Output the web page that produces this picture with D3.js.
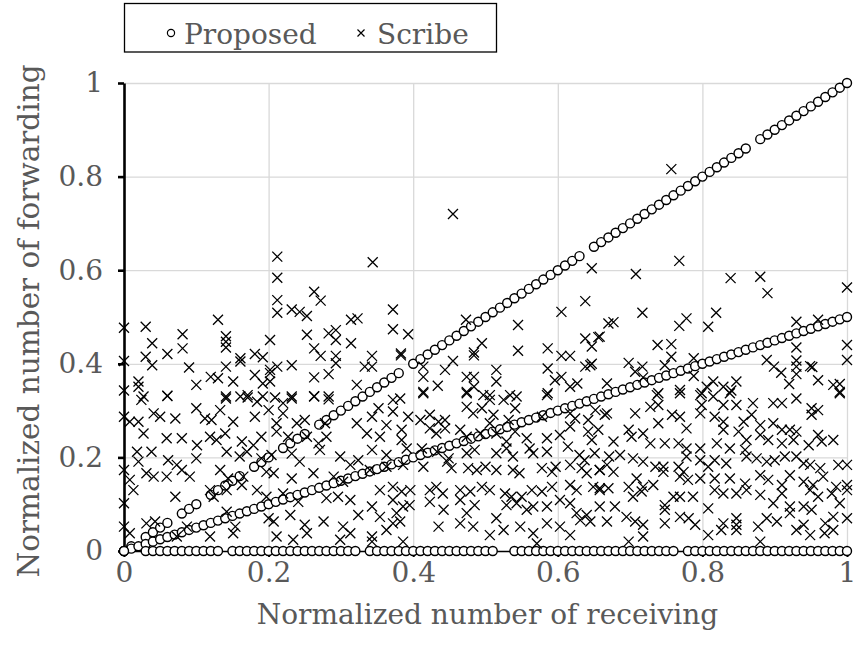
<!DOCTYPE html>
<html>
<head>
<meta charset="utf-8">
<script src="https://cdn.jsdelivr.net/npm/d3@7"></script>
<style>
  body { margin: 0; background: #fff; }
  svg text { font-family: "DejaVu Serif", serif; fill: #595959; }
</style>
</head>
<body>
<div id="chart"></div>
<script>
// Tick labels
var xTickValues = [0, 0.2, 0.4, 0.6, 0.8, 1];
var xTickLabels = ["0", "0.2", "0.4", "0.6", "0.8", "1"];
var yTickValues = [0, 0.2, 0.4, 0.6, 0.8, 1];
var yTickLabels = ["0", "0.2", "0.4", "0.6", "0.8", "1"];

var seriesNames = ["Proposed", "Scribe"];

// Proposed: nodes forwarding everything they receive
var proposedFull = [[0,0],[0.01,0.01],[0.03,0.03],[0.04,0.04],[0.05,0.05],[0.06,0.06],[0.08,0.08],[0.09,0.09],[0.10,0.10],
  [0.12,0.12],[0.13,0.13],[0.14,0.14],[0.15,0.15],[0.16,0.16],[0.18,0.18],[0.19,0.19],[0.20,0.20],[0.22,0.22],[0.23,0.23],
  [0.24,0.24],[0.25,0.25],[0.27,0.27],[0.28,0.28],[0.29,0.29],[0.30,0.30],[0.31,0.31],[0.32,0.32],[0.33,0.33],[0.34,0.34],
  [0.35,0.35],[0.36,0.36],[0.37,0.37],[0.38,0.38],[0.40,0.40],[0.41,0.41],[0.42,0.42],[0.43,0.43],[0.44,0.44],[0.45,0.45],
  [0.46,0.46],[0.47,0.47],[0.48,0.48],[0.49,0.49],[0.50,0.50],[0.51,0.51],[0.52,0.52],[0.53,0.53],[0.54,0.54],[0.55,0.55],
  [0.56,0.56],[0.57,0.57],[0.58,0.58],[0.59,0.59],[0.60,0.60],[0.61,0.61],[0.62,0.62],[0.63,0.63],[0.65,0.65],[0.66,0.66],
  [0.67,0.67],[0.68,0.68],[0.69,0.69],[0.70,0.70],[0.71,0.71],[0.72,0.72],[0.73,0.73],[0.74,0.74],[0.75,0.75],[0.76,0.76],
  [0.77,0.77],[0.78,0.78],[0.79,0.79],[0.80,0.80],[0.81,0.81],[0.82,0.82],[0.83,0.83],[0.84,0.84],[0.85,0.85],[0.86,0.86],
  [0.88,0.88],[0.89,0.89],[0.90,0.90],[0.91,0.91],[0.92,0.92],[0.93,0.93],[0.94,0.94],[0.95,0.95],[0.96,0.96],[0.97,0.97],
  [0.98,0.98],[0.99,0.99],[1,1]];

// Proposed: nodes forwarding half of what they receive
var proposedHalf = [[0,0],[0.01,0.005],[0.02,0.01],[0.03,0.015],[0.04,0.02],[0.05,0.025],[0.06,0.03],[0.07,0.035],[0.08,0.04],
  [0.09,0.045],[0.10,0.05],[0.11,0.055],[0.12,0.06],[0.13,0.065],[0.14,0.07],[0.15,0.075],[0.16,0.08],[0.17,0.085],[0.18,0.09],
  [0.19,0.095],[0.20,0.10],[0.21,0.105],[0.22,0.11],[0.23,0.115],[0.24,0.12],[0.25,0.125],[0.26,0.13],[0.27,0.135],[0.28,0.14],
  [0.29,0.145],[0.30,0.15],[0.31,0.155],[0.32,0.16],[0.33,0.165],[0.34,0.17],[0.35,0.175],[0.36,0.18],[0.37,0.185],[0.38,0.19],
  [0.39,0.195],[0.40,0.20],[0.41,0.205],[0.42,0.21],[0.43,0.215],[0.44,0.22],[0.45,0.225],[0.46,0.23],[0.47,0.235],[0.48,0.24],
  [0.49,0.245],[0.50,0.25],[0.51,0.255],[0.52,0.26],[0.53,0.265],[0.54,0.27],[0.55,0.275],[0.56,0.28],[0.57,0.285],[0.58,0.29],
  [0.59,0.295],[0.60,0.30],[0.61,0.305],[0.62,0.31],[0.63,0.315],[0.64,0.32],[0.65,0.325],[0.66,0.33],[0.67,0.335],[0.68,0.34],
  [0.69,0.345],[0.70,0.35],[0.71,0.355],[0.72,0.36],[0.73,0.365],[0.74,0.37],[0.75,0.375],[0.76,0.38],[0.77,0.385],[0.78,0.39],
  [0.79,0.395],[0.80,0.40],[0.81,0.405],[0.82,0.41],[0.83,0.415],[0.84,0.42],[0.85,0.425],[0.86,0.43],[0.87,0.435],[0.88,0.44],
  [0.89,0.445],[0.90,0.45],[0.91,0.455],[0.92,0.46],[0.93,0.465],[0.94,0.47],[0.95,0.475],[0.96,0.48],[0.97,0.485],[0.98,0.49],
  [0.99,0.495],[1,0.5]];

// Proposed: nodes that forward nothing
var proposedZero = [[0,0],[0.03,0],[0.04,0],[0.05,0],[0.06,0],[0.07,0],[0.08,0],[0.09,0],[0.10,0],[0.11,0],[0.12,0],[0.13,0],
  [0.15,0],[0.16,0],[0.17,0],[0.18,0],[0.19,0],[0.20,0],[0.21,0],[0.22,0],[0.23,0],[0.24,0],[0.25,0],[0.26,0],[0.27,0],
  [0.28,0],[0.29,0],[0.30,0],[0.31,0],[0.32,0],[0.34,0],[0.35,0],[0.36,0],[0.37,0],[0.38,0],[0.39,0],[0.40,0],[0.41,0],
  [0.42,0],[0.43,0],[0.44,0],[0.45,0],[0.46,0],[0.47,0],[0.48,0],[0.49,0],[0.50,0],[0.51,0],[0.54,0],[0.55,0],[0.56,0],
  [0.57,0],[0.58,0],[0.59,0],[0.60,0],[0.61,0],[0.62,0],[0.63,0],[0.64,0],[0.65,0],[0.66,0],[0.67,0],[0.68,0],[0.69,0],
  [0.70,0],[0.71,0],[0.72,0],[0.73,0],[0.74,0],[0.75,0],[0.76,0],[0.78,0],[0.79,0],[0.80,0],[0.81,0],[0.82,0],[0.83,0],
  [0.84,0],[0.85,0],[0.86,0],[0.87,0],[0.88,0],[0.89,0],[0.90,0],[0.91,0],[0.92,0],[0.93,0],[0.94,0],[0.95,0],[0.96,0],
  [0.97,0],[0.98,0],[0.99,0],[1,0]];

// Scribe: upper scattered nodes
var scribeUpper = [[0.455,0.72],[0.757,0.816],[0.212,0.629],[0.212,0.584],[0.212,0.536],[0.212,0.509],[0.232,0.516],
  [0.243,0.511],[0.253,0.502],[0.263,0.554],[0.272,0.535],[0.314,0.494],[0.323,0.497],[0,0.477],[0.03,0.479],[0.039,0.444],
  [0.03,0.415],[0.039,0.397],[0.06,0.421],[0.081,0.463],[0.081,0.433],[0.09,0.392],[0.13,0.494],[0.141,0.459],[0.141,0.447],
  [0.141,0.435],[0.141,0.394],[0.161,0.412],[0.161,0.405],[0.181,0.421],[0.192,0.414],[0.202,0.451],[0.202,0.387],[0.212,0.394],
  [0.232,0.397],[0.253,0.462],[0.263,0.433],[0.272,0.417],[0.283,0.465],[0.293,0.472],[0.293,0.451],[0.293,0.417],[0.293,0.401],
  [0.314,0.444],[0,0.406],[0,0.343],[0.02,0.362],[0.02,0.351],[0.027,0.33],[0.06,0.332],[0.1,0.355],[0.12,0.372],[0.13,0.369],
  [0.141,0.33],[0.151,0.362],[0.161,0.33],[0.171,0.333],[0.181,0.376],[0.192,0.358],[0.192,0.33],[0.202,0.362],[0.202,0.38],
  [0.232,0.33],[0.263,0.371],[0.263,0.33],[0.283,0.378],[0.283,0.33],[0.322,0.355],
  [0.344,0.617],[0.372,0.516],[0.372,0.474],[0.393,0.463],[0.383,0.422],[0.383,0.418],[0.343,0.417],[0.333,0.394],[0.343,0.394],
  [0.473,0.494],[0.495,0.444],[0.484,0.424],[0.484,0.418],[0.455,0.406],[0.444,0.387],[0.414,0.394],[0.414,0.372],[0.414,0.34],
  [0.434,0.353],[0.474,0.372],[0.484,0.372],[0.474,0.34],[0.484,0.351],[0.515,0.387],[0.515,0.362],[0.506,0.333],[0.534,0.333],
  [0.545,0.483],[0.545,0.428],[0.586,0.433],[0.586,0.39],[0.586,0.337],[0.605,0.511],[0.605,0.417],[0.617,0.417],[0.605,0.372],
  [0.596,0.365],[0.617,0.351],[0.627,0.358],[0.638,0.534],[0.647,0.604],[0.638,0.454],[0.647,0.437],[0.656,0.457],[0.645,0.397],
  [0.638,0.394],[0.647,0.4],[0.67,0.486],[0.668,0.358],
  [0.768,0.62],[0.708,0.592],[0.839,0.583],[0.88,0.586],[0.89,0.551],[1,0.563],[0.677,0.489],[0.717,0.509],[0.768,0.481],
  [0.778,0.497],[0.808,0.479],[0.819,0.509],[0.738,0.44],[0.757,0.442],[0.757,0.415],[0.698,0.402],[0.717,0.394],[0.748,0.397],
  [0.788,0.412],[0.788,0.374],[0.93,0.49],[0.96,0.494],[0.93,0.435],[0.93,0.407],[0.93,0.394],[0.93,0.378],[0.889,0.408],
  [0.899,0.394],[0.909,0.381],[0.92,0.357],[0.949,0.395],[0.952,0.393],[0.96,0.365],[0.981,0.355],[0.99,0.357],[0.99,0.34],
  [1,0.44],[1,0.408],[0.707,0.383],[0.718,0.371],[0.815,0.362],[0.806,0.351],[0.829,0.351],[0.84,0.343],[0.847,0.362],
  [0.769,0.344],[0.799,0.337],[0.739,0.337],[0.658,0.458]];

// Scribe: dense band, left third
var scribeLeft = [[0.024,0.323],[0.06,0.331],[0.141,0.326],[0.171,0.328],[0.184,0.319],[0.209,0.328],[0.22,0.316],[0.232,0.326],
  [0.263,0.331],[0.283,0.324],[0,0.287],[0.008,0.276],[0.02,0.276],[0.041,0.294],[0.05,0.287],[0.071,0.283],[0.1,0.305],
  [0.112,0.283],[0.121,0.28],[0.133,0.301],[0.151,0.276],[0.181,0.287],[0.2,0.301],[0.211,0.273],[0.22,0.294],[0.239,0.273],
  [0.25,0.28],[0.278,0.273],[0.322,0.273],[0.027,0.251],[0.059,0.241],[0.08,0.241],[0.101,0.226],[0.119,0.244],[0.128,0.237],
  [0.14,0.251],[0.163,0.234],[0.179,0.226],[0.19,0.244],[0.211,0.255],[0.227,0.244],[0.253,0.244],[0.269,0.23],[0.28,0.244],
  [0.018,0.212],[0.02,0.191],[0.038,0.212],[0.061,0.194],[0.073,0.184],[0.1,0.198],[0.142,0.212],[0.16,0.202],[0.17,0.212],
  [0.19,0.198],[0.204,0.205],[0.232,0.208],[0.243,0.191],[0.271,0.216],[0.299,0.202],[0.324,0.194],[0.313,0.184],
  [0,0.173],[0.008,0.152],[0.031,0.166],[0.041,0.159],[0.059,0.159],[0.08,0.173],[0.091,0.159],[0.133,0.173],[0.144,0.155],
  [0.165,0.159],[0.197,0.169],[0.207,0.166],[0.232,0.155],[0.262,0.166],[0.29,0.159],[0.303,0.148],
  [0,0.102],[0.013,0.13],[0.071,0.116],[0.119,0.13],[0.124,0.116],[0.142,0.13],[0.163,0.141],[0.184,0.13],[0.197,0.116],
  [0.22,0.123],[0.241,0.105],[0.28,0.113],[0.296,0.116],[0.313,0.109],
  [0,0.052],[0.031,0.059],[0.043,0.063],[0.087,0.052],[0.142,0.084],[0.154,0.052],[0.2,0.07],[0.207,0.063],[0.23,0.077],
  [0.25,0.056],[0.276,0.063],[0.303,0.052],[0.324,0.077],
  [0.008,0.038],[0.073,0.031],[0.119,0.031],[0.151,0.038],[0.211,0.031],[0.234,0.024],[0.253,0.038],[0.313,0.038],[0.299,0.024]];

// Scribe: dense band, middle third
var scribeMiddle = [[0.372,0.323],[0.382,0.326],[0.414,0.337],[0.474,0.337],[0.497,0.333],[0.506,0.323],[0.525,0.323],
  [0.543,0.33],[0.585,0.333],[0.352,0.305],[0.343,0.287],[0.372,0.298],[0.393,0.287],[0.41,0.28],[0.423,0.291],[0.435,0.276],
  [0.444,0.28],[0.474,0.308],[0.483,0.294],[0.495,0.305],[0.511,0.291],[0.506,0.273],[0.532,0.28],[0.541,0.305],[0.578,0.287],
  [0.617,0.294],[0.624,0.283],[0.642,0.28],[0.652,0.301],[0.668,0.294],
  [0.336,0.251],[0.354,0.244],[0.363,0.269],[0.384,0.259],[0.384,0.237],[0.423,0.262],[0.432,0.251],[0.444,0.262],[0.465,0.259],
  [0.474,0.244],[0.493,0.251],[0.515,0.251],[0.529,0.234],[0.541,0.255],[0.557,0.241],[0.585,0.241],[0.603,0.248],[0.617,0.266],
  [0.642,0.255],[0.647,0.237],[0.656,0.259],
  [0.343,0.216],[0.363,0.205],[0.391,0.219],[0.412,0.219],[0.433,0.212],[0.449,0.198],[0.474,0.209],[0.485,0.216],[0.515,0.209],
  [0.529,0.219],[0.538,0.202],[0.561,0.219],[0.566,0.209],[0.585,0.212],[0.614,0.223],[0.63,0.205],[0.637,0.194],[0.651,0.209],
  [0.671,0.202],
  [0.34,0.173],[0.363,0.18],[0.386,0.184],[0.414,0.18],[0.447,0.191],[0.453,0.177],[0.476,0.177],[0.488,0.173],[0.5,0.18],
  [0.515,0.173],[0.538,0.173],[0.547,0.166],[0.578,0.177],[0.592,0.169],[0.597,0.18],[0.617,0.184],[0.633,0.177],[0.64,0.166],
  [0.658,0.173],
  [0.354,0.13],[0.372,0.137],[0.384,0.127],[0.396,0.13],[0.423,0.13],[0.432,0.137],[0.441,0.123],[0.465,0.13],[0.479,0.127],
  [0.495,0.137],[0.506,0.13],[0.527,0.123],[0.536,0.116],[0.55,0.116],[0.564,0.13],[0.578,0.127],[0.592,0.137],[0.617,0.141],
  [0.626,0.13],[0.649,0.137],[0.658,0.13],[0.67,0.134],
  [0.343,0.095],[0.354,0.073],[0.372,0.109],[0.377,0.081],[0.386,0.095],[0.395,0.098],[0.423,0.105],[0.442,0.088],[0.465,0.109],
  [0.474,0.081],[0.485,0.098],[0.515,0.07],[0.529,0.098],[0.543,0.102],[0.557,0.088],[0.566,0.095],[0.585,0.095],[0.603,0.109],
  [0.617,0.102],[0.626,0.081],[0.64,0.077],[0.658,0.095],
  [0.343,0.031],[0.363,0.045],[0.372,0.059],[0.382,0.063],[0.435,0.052],[0.465,0.059],[0.483,0.052],[0.506,0.034],[0.525,0.045],
  [0.548,0.052],[0.566,0.038],[0.585,0.059],[0.603,0.052],[0.617,0.034],[0.631,0.066],[0.645,0.063],
  [0.343,0.02],[0.386,0.02],[0.571,0.016]];

// Scribe: dense band, right third
var scribeRight = [[0.737,0.333],[0.739,0.312],[0.769,0.337],[0.797,0.333],[0.799,0.312],[0.815,0.33],[0.829,0.312],[0.838,0.337],
  [0.847,0.312],[0.87,0.316],[0.898,0.316],[0.91,0.316],[0.93,0.326],[0.951,0.305],[0.96,0.301],[0.99,0.337],
  [0.665,0.291],[0.707,0.294],[0.728,0.308],[0.739,0.273],[0.758,0.291],[0.769,0.287],[0.778,0.262],[0.797,0.294],[0.817,0.287],
  [0.829,0.276],[0.857,0.276],[0.868,0.291],[0.88,0.269],[0.898,0.273],[0.91,0.259],[0.921,0.259],[0.93,0.255],[0.951,0.291],
  [0.677,0.234],[0.698,0.259],[0.702,0.244],[0.718,0.251],[0.728,0.23],[0.748,0.23],[0.767,0.23],[0.778,0.219],[0.797,0.219],
  [0.82,0.23],[0.829,0.259],[0.838,0.219],[0.85,0.255],[0.861,0.237],[0.88,0.248],[0.891,0.237],[0.91,0.23],[0.926,0.237],
  [0.947,0.226],[0.96,0.248],[0.965,0.234],[0.981,0.237],
  [0.668,0.184],[0.686,0.205],[0.704,0.198],[0.718,0.191],[0.735,0.18],[0.746,0.18],[0.767,0.18],[0.778,0.202],[0.797,0.194],
  [0.808,0.18],[0.817,0.194],[0.833,0.187],[0.859,0.216],[0.861,0.202],[0.875,0.198],[0.889,0.191],[0.9,0.194],[0.914,0.202],
  [0.93,0.202],[0.94,0.187],[0.949,0.184],[0.963,0.177],[0.988,0.184],[1,0.184],
  [0.658,0.173],[0.677,0.169],[0.698,0.137],[0.709,0.155],[0.718,0.137],[0.732,0.141],[0.746,0.169],[0.769,0.159],[0.774,0.169],
  [0.78,0.152],[0.797,0.155],[0.817,0.155],[0.838,0.155],[0.859,0.144],[0.88,0.162],[0.891,0.152],[0.91,0.141],[0.921,0.162],
  [0.94,0.148],[0.953,0.141],[0.967,0.159],[0.985,0.137],[1,0.141],
  [0.658,0.134],[0.704,0.116],[0.716,0.127],[0.748,0.098],[0.76,0.116],[0.769,0.116],[0.787,0.116],[0.817,0.13],[0.829,0.123],
  [0.847,0.123],[0.861,0.13],[0.88,0.12],[0.898,0.102],[0.91,0.123],[0.921,0.095],[0.94,0.095],[0.949,0.13],[0.96,0.116],
  [0.979,0.123],[0.99,0.102],[1,0.13],
  [0.668,0.063],[0.679,0.095],[0.695,0.073],[0.707,0.063],[0.718,0.056],[0.748,0.088],[0.748,0.059],[0.769,0.073],[0.781,0.07],
  [0.79,0.056],[0.808,0.091],[0.829,0.059],[0.847,0.07],[0.847,0.056],[0.877,0.052],[0.889,0.07],[0.903,0.063],[0.921,0.081],
  [0.94,0.056],[0.951,0.088],[0.97,0.059],[0.981,0.073],[1,0.07],
  [0.698,0.02],[0.718,0.031],[0.808,0.034],[0.826,0.045],[0.847,0.045],[0.88,0.02],[0.93,0.045],[0.949,0.034],[0.969,0.038],
  [0.981,0.045]];

// Margin conventions
var margin = {top: 83, right: 10, bottom: 111, left: 124};
var width = 857 - margin.left - margin.right,
    height = 662 - margin.top - margin.bottom;

var svgRoot = d3.select("#chart")
  .append("svg")
  .attr("width", 857)
  .attr("height", 662);

var svg = svgRoot.append("g")
  .attr("transform", "translate(" + margin.left + "," + margin.top + ")");

var xScale = d3.scaleLinear().domain([0, 1]).range([0, width]);
var yScale = d3.scaleLinear().domain([0, 1]).range([height, 0]);

// Gridlines
svg.append("g")
  .attr("class", "grid")
  .call(d3.axisLeft(yScale).tickValues(yTickValues.slice(1)).tickSize(-width).tickFormat(""))
  .call(function(g) { g.select(".domain").remove(); })
  .selectAll("line").attr("stroke", "#d9d9d9").attr("stroke-width", 1.3);

svg.append("g")
  .attr("class", "grid")
  .attr("transform", "translate(0," + height + ")")
  .call(d3.axisBottom(xScale).tickValues(xTickValues.slice(1)).tickSize(-height).tickFormat(""))
  .call(function(g) { g.select(".domain").remove(); })
  .selectAll("line").attr("stroke", "#d9d9d9").attr("stroke-width", 1.3);

// Axes
var xAxis = d3.axisBottom(xScale)
  .tickValues(xTickValues)
  .tickFormat(function(d, i) { return xTickLabels[i]; })
  .tickSize(6)
  .tickSizeOuter(0)
  .tickPadding(5);

var yAxis = d3.axisLeft(yScale)
  .tickValues(yTickValues)
  .tickFormat(function(d, i) { return yTickLabels[i]; })
  .tickSize(6)
  .tickSizeOuter(0)
  .tickPadding(15);

var xAxisGroup = svg.append("g")
  .attr("transform", "translate(0," + height + ")")
  .call(xAxis);
xAxisGroup.select(".domain").attr("stroke", "#000").attr("stroke-width", 1.3);
xAxisGroup.selectAll(".tick line").attr("stroke", "#000").attr("stroke-width", 2);

var yAxisGroup = svg.append("g").call(yAxis);
yAxisGroup.select(".domain").attr("stroke", "#000").attr("stroke-width", 2.6);
yAxisGroup.selectAll(".tick line").attr("stroke", "#000").attr("stroke-width", 2.6);

svg.selectAll(".tick text")
  .attr("font-family", "DejaVu Serif")
  .attr("font-size", 28)
  .attr("fill", "#595959");

// Axis titles
svg.append("text")
  .attr("x", width / 2 + 2)
  .attr("y", height + 73)
  .attr("text-anchor", "middle")
  .attr("font-size", 28)
  .text("Normalized number of receiving");

svg.append("text")
  .attr("transform", "translate(" + (-85) + "," + (height / 2 + 4) + ") rotate(-90)")
  .attr("text-anchor", "middle")
  .attr("font-size", 29.5)
  .text("Normalized number of forwarding");

// Proposed circles
var proposedData = proposedFull.concat(proposedHalf, proposedZero);
svg.append("g")
  .selectAll("circle")
  .data(proposedData)
  .enter()
  .append("circle")
  .attr("cx", function(d) { return xScale(d[0]); })
  .attr("cy", function(d) { return yScale(d[1]); })
  .attr("r", 4.5)
  .attr("fill", "#fff")
  .attr("stroke", "#000")
  .attr("stroke-width", 1.4);

// Scribe crosses
var crossPath = "M-5,-5L5,5M-5,5L5,-5";
var scribeData = scribeUpper.concat(scribeLeft, scribeMiddle, scribeRight);
svg.append("g")
  .selectAll("path")
  .data(scribeData)
  .enter()
  .append("path")
  .attr("transform", function(d) { return "translate(" + xScale(d[0]) + "," + yScale(d[1]) + ")"; })
  .attr("d", crossPath)
  .attr("fill", "none")
  .attr("stroke", "#000")
  .attr("stroke-width", 1.3);

// Legend
var legend = svgRoot.append("g");
legend.append("rect")
  .attr("x", 124.5).attr("y", 3.5)
  .attr("width", 372).attr("height", 48.5)
  .attr("fill", "#fff")
  .attr("stroke", "#000")
  .attr("stroke-width", 1.3);

legend.append("circle")
  .attr("cx", 171).attr("cy", 33).attr("r", 3.6)
  .attr("fill", "#fff").attr("stroke", "#000").attr("stroke-width", 1.2);
legend.append("text")
  .attr("x", 184).attr("y", 44)
  .attr("font-size", 28)
  .text(seriesNames[0]);

legend.append("path")
  .attr("transform", "translate(361,33)")
  .attr("d", "M-3.5,-3.5L3.5,3.5M-3.5,3.5L3.5,-3.5")
  .attr("stroke", "#000").attr("stroke-width", 1.2);
legend.append("text")
  .attr("x", 377).attr("y", 44)
  .attr("font-size", 28)
  .text(seriesNames[1]);
</script>
</body>
</html>
